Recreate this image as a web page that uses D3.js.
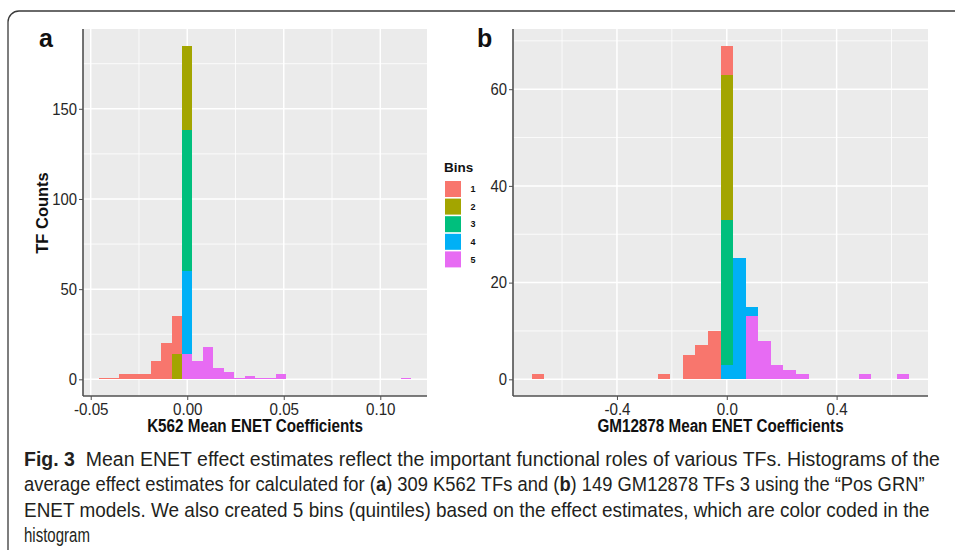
<!DOCTYPE html>
<html><head><meta charset="utf-8">
<script src="https://cdn.jsdelivr.net/npm/d3@7"></script>
<style>
html,body{margin:0;padding:0;background:#fff;}
svg{display:block;}
</style></head>
<body>
<svg id="chart" width="955" height="550"></svg>
<script>
// ---------------- data ----------------
const binKeys = ["1","2","3","4","5"];
const binColors = ["#F8766D","#A3A500","#00BF7D","#00B0F6","#E76BF3"];

// Panel a: K562 (binwidth ~0.0054)
const aWidth = 0.0054;
const aCenters = [-0.0432,-0.0378,-0.0324,-0.0270,-0.0216,-0.0162,-0.0108,-0.0054,0,0.0054,0.0108,0.0162,0.0216,0.0270,0.0324,0.0378,0.0432,0.0486,0.1134];
const aBin1 = [1,1,3,3,3,10,20,21,0,0,0,0,0,0,0,0,0,0,0];
const aBin2 = [0,0,0,0,0,0,0,14,47,0,0,0,0,0,0,0,0,0,0];
const aBin3 = [0,0,0,0,0,0,0,0,78,0,0,0,0,0,0,0,0,0,0];
const aBin4 = [0,0,0,0,0,0,0,0,46,0,0,0,0,0,0,0,0,0,0];
const aBin5 = [0,0,0,0,0,0,0,0,14,10,18,6,4,1,2,1,1,3,1];
const aXTicks = [-0.05,0,0.05,0.10], aXLabels = ["-0.05","0.00","0.05","0.10"], aXMinor = [-0.025,0.025,0.075];
const aYTicks = [0,50,100,150], aYMinor = [25,75,125,175];

// Panel b: GM12878 (binwidth ~0.0458)
const bWidth = 0.0458;
const bCenters = [-0.687,-0.229,-0.1374,-0.0916,-0.0458,0,0.0458,0.0916,0.1374,0.1832,0.229,0.2748,0.5038,0.6412];
const bBin1 = [1,1,5,7,10,6,0,0,0,0,0,0,0,0];
const bBin2 = [0,0,0,0,0,30,0,0,0,0,0,0,0,0];
const bBin3 = [0,0,0,0,0,30,0,0,0,0,0,0,0,0];
const bBin4 = [0,0,0,0,0,3,25,2,0,0,0,0,0,0];
const bBin5 = [0,0,0,0,0,0,0,13,8,3,2,1,1,1];
const bXTicks = [-0.4,0,0.4], bXLabels = ["-0.4","0.0","0.4"], bXMinor = [-0.6,-0.2,0.2,0.6];
const bYTicks = [0,20,40,60], bYMinor = [10,30,50,70];

const captionLines = [
  [["Fig. 3",true],["  Mean ENET effect estimates reflect the important functional roles of various TFs. Histograms of the",false]],
  [["average effect estimates for calculated for (",false],["a",true],[") 309 K562 TFs and (",false],["b",true],[") 149 GM12878 TFs 3 using the \u201cPos GRN\u201d",false]],
  [["ENET models. We also created 5 bins (quintiles) based on the effect estimates, which are color coded in the",false]],
  [["histogram",false]]
];
const captionWidths = [916, 901, 906, 66];

// ---------------- drawing ----------------
const svg = d3.select("#chart");
const FONT = "'Liberation Sans', Arial, sans-serif";

function squeeze(sel, f){
  sel.each(function(){
    const l = this.getComputedTextLength();
    d3.select(this).attr("textLength", l*f).attr("lengthAdjust","spacingAndGlyphs");
  });
}

// figure frame
svg.append("rect").attr("x",8).attr("y",11).attr("width",990).attr("height",600)
  .attr("rx",11).attr("fill","none").attr("stroke","#3a3a3a").attr("stroke-width",1.3);

function panel(opt){
  const {x0,x1,y0,y1,centers,width,bins,xTicks,xLabels,xMinor,yTicks,yMinor,title,letter} = opt;
  const rows = centers.map((c,i)=>{
    const r = {c:c};
    binKeys.forEach((k,j)=>{ r[k]=bins[j][i]; });
    return r;
  });
  const totals = rows.map(r=>d3.sum(binKeys,k=>r[k]));
  const xmin = d3.min(centers)-width/2, xmax = d3.max(centers)+width/2;
  const xpad = (xmax-xmin)*0.05;
  const ymax = d3.max(totals), ypad = ymax*0.05;
  const x = d3.scaleLinear().domain([xmin-xpad, xmax+xpad]).range([x0,x1]);
  const y = d3.scaleLinear().domain([-ypad, ymax+ypad]).range([y1,y0]);

  const g = svg.append("g");
  g.append("rect").attr("x",x0).attr("y",y0).attr("width",x1-x0).attr("height",y1-y0).attr("fill","#EBEBEB");
  g.selectAll(".vmin").data(xMinor).join("line").attr("x1",d=>x(d)).attr("x2",d=>x(d)).attr("y1",y0).attr("y2",y1)
    .attr("stroke","#fff").attr("stroke-width",0.8);
  g.selectAll(".hmin").data(yMinor).join("line").attr("y1",d=>y(d)).attr("y2",d=>y(d)).attr("x1",x0).attr("x2",x1)
    .attr("stroke","#fff").attr("stroke-width",0.8);
  g.selectAll(".vmaj").data(xTicks).join("line").attr("x1",d=>x(d)).attr("x2",d=>x(d)).attr("y1",y0).attr("y2",y1)
    .attr("stroke","#fff").attr("stroke-width",1.5);
  g.selectAll(".hmaj").data(yTicks).join("line").attr("y1",d=>y(d)).attr("y2",d=>y(d)).attr("x1",x0).attr("x2",x1)
    .attr("stroke","#fff").attr("stroke-width",1.5);

  // stacked bars: bin 5 at bottom, bin 1 on top
  const stack = d3.stack().keys(["5","4","3","2","1"]);
  const series = stack(rows);
  series.forEach(s=>{
    const col = binColors[binKeys.indexOf(s.key)];
    g.append("g").selectAll("rect").data(s.filter(d=>d[1]>d[0])).join("rect")
      .attr("x",d=>x(d.data.c-width/2)).attr("width",d=>x(d.data.c+width/2)-x(d.data.c-width/2))
      .attr("y",d=>y(d[1])).attr("height",d=>y(d[0])-y(d[1]))
      .attr("fill",col).attr("shape-rendering","crispEdges");
  });

  const ax = g.append("g").attr("transform",`translate(0,${y1})`)
    .call(d3.axisBottom(x).tickValues(xTicks).tickFormat((d,i)=>xLabels[i]).tickSize(4).tickPadding(3));
  const ay = g.append("g").attr("transform",`translate(${x0},0)`)
    .call(d3.axisLeft(y).tickValues(yTicks).tickFormat(d3.format("d")).tickSize(4).tickPadding(2));
  [ax,ay].forEach(a=>{
    a.select(".domain").attr("stroke","#505050").attr("stroke-width",1.6);
    a.selectAll(".tick line").attr("stroke","#505050");
    a.selectAll(".tick text").attr("font-family",FONT).attr("font-size",16.5).attr("fill","#262626");
  });
  ax.select(".domain").attr("d",`M${x0},0H${x1}`);
  ay.select(".domain").attr("d",`M0,${y0}V${y1}`);
  squeeze(ax.selectAll(".tick text"),0.92);
  squeeze(ay.selectAll(".tick text"),0.9);

  const xt = g.append("text").attr("x",(x0+x1)/2).attr("y",432).attr("text-anchor","middle")
    .attr("font-family",FONT).attr("font-weight","bold").attr("font-size",17.5).attr("fill","#111").text(title);
  squeeze(xt,0.87);

  g.append("text").attr("x",letter[1]).attr("y",47).attr("font-family",FONT).attr("font-weight","bold")
    .attr("font-size",25).attr("fill","#111").text(letter[0]);
  return g;
}

panel({x0:83,x1:427,y0:29,y1:396,centers:aCenters,width:aWidth,bins:[aBin1,aBin2,aBin3,aBin4,aBin5],
  xTicks:aXTicks,xLabels:aXLabels,xMinor:aXMinor,yTicks:aYTicks,yMinor:aYMinor,
  title:"K562 Mean ENET Coefficients",letter:["a",39]});
panel({x0:513,x1:928,y0:29,y1:396,centers:bCenters,width:bWidth,bins:[bBin1,bBin2,bBin3,bBin4,bBin5],
  xTicks:bXTicks,xLabels:bXLabels,xMinor:bXMinor,yTicks:bYTicks,yMinor:bYMinor,
  title:"GM12878 Mean ENET Coefficients",letter:["b",477]});

// y title
svg.append("text").attr("transform","translate(48,213) rotate(-90)").attr("text-anchor","middle")
  .attr("font-family",FONT).attr("font-weight","bold").attr("font-size",16.5).attr("fill","#111").text("TF Counts");

// legend
const lg = svg.append("g");
lg.append("text").attr("x",444).attr("y",172).attr("font-family",FONT).attr("font-weight","bold")
  .attr("font-size",13.5).attr("fill","#111").text("Bins");
binKeys.forEach((k,i)=>{
  lg.append("rect").attr("x",445).attr("y",181+i*17.6).attr("width",16).attr("height",16).attr("fill",binColors[i]);
  lg.append("text").attr("x",470.5).attr("y",181+i*17.6+8).attr("dy","0.36em").attr("font-family",FONT)
    .attr("font-weight","bold").attr("font-size",9).attr("fill","#111").text(k);
});

// caption: each line horizontally compressed as a whole (condensed look)
const capFont = "'Liberation Sans',Arial,sans-serif";
const baselines = [465.5, 491, 516.5, 541.5];
captionLines.forEach((line,i)=>{
  const t = svg.append("text").attr("x",0).attr("y",0).attr("font-family",capFont)
    .attr("font-size",19.5).attr("fill","#231f20").style("white-space","pre");
  line.forEach(([s,b])=>{
    t.append("tspan").attr("font-weight",b?"bold":"normal").text(s);
  });
  const natural = t.node().getComputedTextLength();
  const sx = captionWidths[i]/natural;
  t.attr("transform",`translate(24,${baselines[i]}) scale(${sx},1)`);
});
</script>
</body></html>
